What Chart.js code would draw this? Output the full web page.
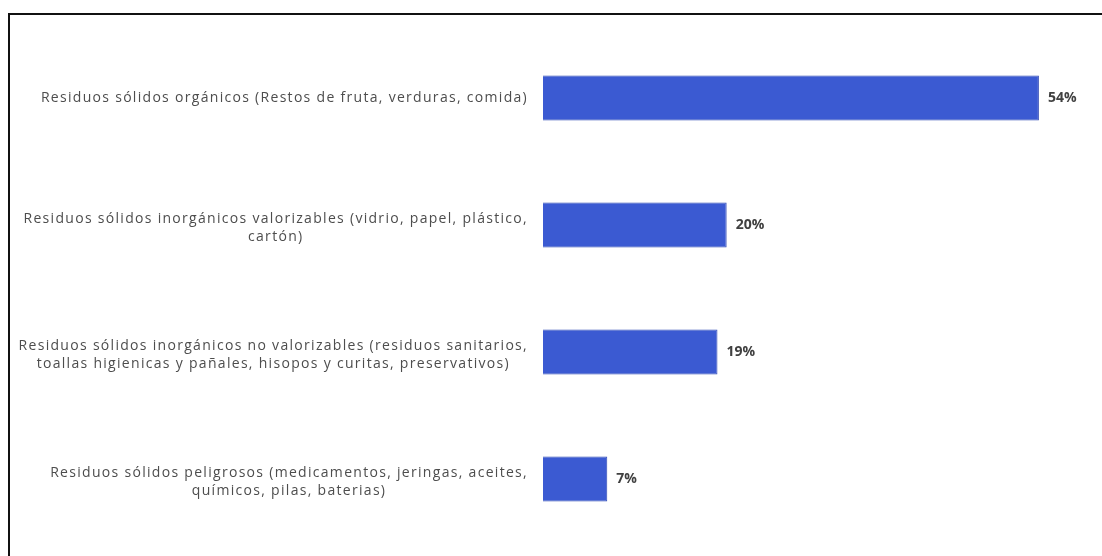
<!DOCTYPE html>
<html>
<head>
<meta charset="utf-8">
<script src="https://cdn.jsdelivr.net/npm/chart.js@4"></script>
<style>
    html, body { margin: 0; padding: 0; background: #fff; }
    #frame {
        position: absolute;
        left: 8px;
        top: 13px;
        width: 1094px;
        height: 543px;
        border-top: 2px solid #111;
        border-left: 2px solid #111;
        box-sizing: border-box;
    }
    #wrap { position: absolute; left: 0; top: 0; width: 1092px; height: 541px; }
</style>
</head>
<body>
<div id="frame"><div id="wrap"><canvas id="residuosChart"></canvas></div></div>
<script>
const categories = [
    ["Residuos sólidos orgánicos (Restos de fruta, verduras, comida)"],
    ["Residuos sólidos inorgánicos valorizables (vidrio, papel, plástico,", "cartón)"],
    ["Residuos sólidos inorgánicos no valorizables (residuos sanitarios,", "toallas higienicas y pañales, hisopos y curitas, preservativos)"],
    ["Residuos sólidos peligrosos (medicamentos, jeringas, aceites,", "químicos, pilas, baterias)"]
];
const percentages = [54, 20, 19, 7];

const LABEL_FONT = "14px 'Open Sans'";
const VALUE_FONT = "bold 14px 'Open Sans'";

// category labels: block right-aligned next to the bars, lines centred inside the block
const categoryLabels = {
    id: "categoryLabels",
    afterDraw(chart) {
        const ctx = chart.ctx;
        const yScale = chart.scales.y;
        const right = chart.chartArea.left - 15;
        const lineH = 18;
        ctx.save();
        ctx.font = LABEL_FONT;
        ctx.letterSpacing = "1.3px";
        ctx.fillStyle = "#4d4d4d";
        ctx.textAlign = "center";
        ctx.textBaseline = "middle";
        categories.forEach((lines, i) => {
            const y = yScale.getPixelForTick(i);
            const w = Math.max(...lines.map(l => ctx.measureText(l).width));
            const cx = right - w / 2;
            const top = y - (lines.length - 1) * lineH / 2 + (lines.length > 1 ? 3 : 0);
            lines.forEach((l, j) => ctx.fillText(l, cx, top + j * lineH));
        });
        ctx.restore();
    }
};

const valueLabels = {
    id: "valueLabels",
    afterDatasetsDraw(chart) {
        const ctx = chart.ctx;
        const meta = chart.getDatasetMeta(0);
        ctx.save();
        ctx.font = VALUE_FONT;
        ctx.fillStyle = "#404040";
        ctx.textAlign = "left";
        ctx.textBaseline = "middle";
        meta.data.forEach((bar, i) => {
            ctx.fillText(percentages[i] + "%", bar.x + 9, bar.y);
        });
        ctx.restore();
    }
};

new Chart(document.getElementById("residuosChart"), {
    type: "bar",
    data: {
        labels: categories,
        datasets: [{
            data: percentages,
            backgroundColor: "#3b5ad2",
            borderColor: "#2f48b5",
            borderWidth: 1,
            categoryPercentage: 1,
            barPercentage: 0.354
        }]
    },
    options: {
        indexAxis: "y",
        responsive: true,
        maintainAspectRatio: false,
        animation: false,
        layout: { padding: { left: 533, right: 8, top: 19.5, bottom: 13.5 } },
        scales: {
            x: { display: false, min: 0, max: 60 },
            y: { display: false }
        },
        plugins: { legend: { display: false }, tooltip: { enabled: false } }
    },
    plugins: [categoryLabels, valueLabels]
});
</script>
</body>
</html>
